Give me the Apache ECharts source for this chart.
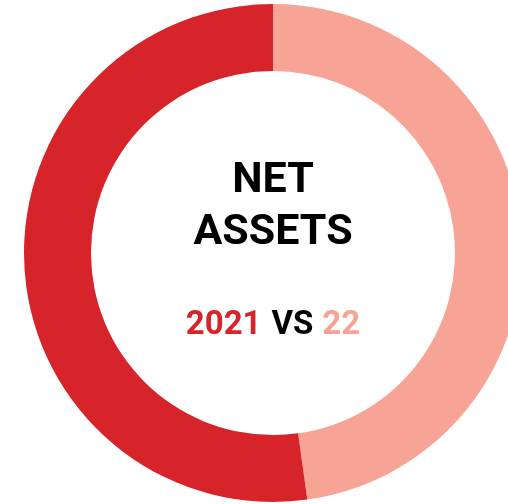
<!DOCTYPE html>
<html>
<head>
<meta charset="utf-8">
<script src="https://cdn.jsdelivr.net/npm/echarts@6/dist/echarts.min.js"></script>
<style>
  html, body { margin: 0; padding: 0; background: #ffffff; }
  #chart { width: 508px; height: 504px; }
</style>
</head>
<body>
<div id="chart"></div>
<script>
const years = ['2022', '2021'];
const shares = [47.8, 52.2];
const colors = ['#F7A395', '#D7242A'];

const chart = echarts.init(document.getElementById('chart'), null, { renderer: 'canvas' });

const option = {
  animation: false,
  backgroundColor: '#ffffff',
  graphic: [
    {
      type: 'text',
      x: 273,
      y: 207,
      style: {
        text: 'NET\nASSETS',
        fill: '#000000',
        font: 'bold 43px Roboto',
        lineHeight: 52,
        align: 'center',
        verticalAlign: 'middle'
      }
    },
    {
      type: 'text',
      x: 273,
      y: 326,
      style: {
        text: '{a|2021}{b|VS}{c|22}',
        align: 'center',
        verticalAlign: 'middle',
        rich: {
          a: { fill: colors[1], font: 'bold 33px Roboto', padding: [0, 10, 0, 0] },
          b: { fill: '#000000', font: 'bold 33px Roboto' },
          c: { fill: colors[0], font: 'bold 33px Roboto', padding: [0, 0, 0, 9] }
        }
      }
    }
  ],
  series: [
    {
      type: 'pie',
      center: [273, 253],
      radius: [182, 249],
      startAngle: 90,
      clockwise: true,
      silent: true,
      label: { show: false },
      labelLine: { show: false },
      data: years.map((y, i) => ({ name: y, value: shares[i], itemStyle: { color: colors[i] } }))
    }
  ]
};

chart.setOption(option);
</script>
</body>
</html>
